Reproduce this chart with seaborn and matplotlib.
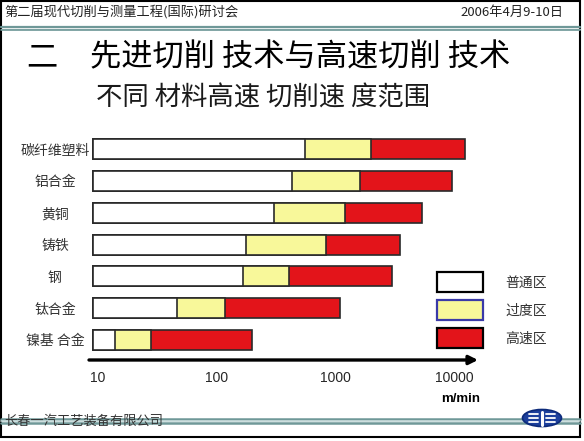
import matplotlib
matplotlib.use("Agg")
import matplotlib.pyplot as plt
import seaborn as sns
import numpy as np
from matplotlib.patches import Rectangle, Ellipse
from matplotlib.lines import Line2D

# ---------------- data ----------------
materials = ["碳纤维塑料", "铝合金", "黄铜", "铸铁", "钢", "钛合金", "镍基 合金"]
speed_start = [9.3, 9.3, 9.3, 9.3, 9.3, 9.3, 9.3]          # m/min
normal_end = [553, 430, 304, 177, 167, 47, 14]              # 普通区 upper limit
transition_end = [1968, 1592, 1194, 828, 406, 119, 28.5]    # 过度区 upper limit
high_end = [12270, 9550, 5358, 3444, 2951, 1084, 199]       # 高速区 upper limit
zone_labels = ["普通区", "过度区", "高速区"]
tick_values = [10, 100, 1000, 10000]
tick_labels = ["10", "100", "1000", "10000"]

header_left = "第二届现代切削与测量工程(国际)研讨会"
header_right = "2006年4月9-10日"
title_num = "二"
title_text = "先进切削 技术与高速切削 技术"
subtitle_text = "不同 材料高速 切削速 度范围"
footer_text = "长春一汽工艺装备有限公司"
unit_text = "m/min"

# ---------------- style ----------------
sns.set_style("white")
CJK = ["Noto Sans CJK SC", "DejaVu Sans"]
plt.rcParams["font.family"] = CJK

W, H = 584, 441
fig = plt.figure(figsize=(W / 100, H / 100), dpi=100)

# overlay axes in pixel coordinates for slide decoration
ov = fig.add_axes([0, 0, 1, 1], zorder=0)
ov.set_xlim(0, W)
ov.set_ylim(H, 0)
ov.axis("off")

C_WHITE = "#ffffff"
C_YELLOW = "#f8f89a"
C_RED = "#e3141a"
EDGE = "#2a2a2a"
TEAL = "#6f9898"

# outer frame
ov.add_patch(Rectangle((1, 1), 579, 436, fill=False, edgecolor="black", lw=1.5))
# header
ov.text(4, 12, header_left, fontsize=9.5, color="#222222", va="center", ha="left")
ov.text(563, 12, header_right, fontsize=9.5, color="#222222", va="center", ha="right")
for yy, lw, c in [(26.5, 1.6, TEAL), (28.5, 1.0, "#b8cfcf"), (30, 1.2, TEAL)]:
    ov.add_line(Line2D([1, 580], [yy, yy], color=c, lw=lw))
# title
ov.text(26, 57, title_num, fontsize=22.5, color="black", va="center", ha="left")
ov.text(90, 57, title_text, fontsize=22.5, color="black", va="center", ha="left")
ov.text(96, 98, subtitle_text, fontsize=19, color="#1a1a1a", va="center", ha="left",
        fontweight="light")
# footer
for yy, lw, c in [(418.5, 1.8, TEAL), (420.8, 1.2, "#c4d8d8"), (423, 1.8, TEAL)]:
    ov.add_line(Line2D([1, 580], [yy, yy], color=c, lw=lw))
ov.text(4, 421, footer_text, fontsize=9.5, color="#333333", va="center", ha="left")
# logo
ov.add_patch(Ellipse((542, 418), 39, 17, facecolor="#1c3f9c", edgecolor="#0c2a7a", lw=1.2, zorder=3))
for yy in [414, 418, 422]:
    ov.add_line(Line2D([529, 538], [yy, yy], color="white", lw=1.3, zorder=4))
    ov.add_line(Line2D([546, 555], [yy, yy], color="white", lw=1.3, zorder=4))
ov.add_line(Line2D([542, 542], [411.5, 424.5], color="white", lw=2.2, zorder=4))

# legend boxes
leg_colors = [C_WHITE, C_YELLOW, C_RED]
leg_edges = ["black", "#3a3aa8", "black"]
leg_y = [272, 300, 328]
for lab, fc, ec, yy in zip(zone_labels, leg_colors, leg_edges, leg_y):
    ov.add_patch(Rectangle((437, yy), 46, 19.5, facecolor=fc, edgecolor=ec, lw=1.6))
    ov.text(526, yy + 10.5, lab, fontsize=10, color="#333333", va="center", ha="center")

# unit label
ov.text(461, 399, unit_text, fontsize=9.5, fontweight="bold", color="black",
        va="center", ha="center", family=["Liberation Sans", "DejaVu Sans"])

# ---------------- chart axes ----------------
left_px, right_px, top_px, bot_px = 89, 478, 130, 360
ax = fig.add_axes([left_px / W, (H - bot_px) / H, (right_px - left_px) / W, (bot_px - top_px) / H],
                  zorder=2)
ax.patch.set_alpha(0)
ax.set_xscale("log")

start = np.array(speed_start, dtype=float)
layers = [(np.array(high_end), C_RED), (np.array(transition_end), C_YELLOW),
          (np.array(normal_end), C_WHITE)]
for end, col in layers:
    sns.barplot(x=end - start, y=materials, left=start, color=col, edgecolor=EDGE,
                linewidth=1.2, width=0.63, errorbar=None, orient="h", ax=ax,
                saturation=1)

ax.set_xlim(8.53, 15660)
ax.set_ylim(6.63, -0.6)
ax.set_xticks(tick_values)
ax.set_xticklabels(tick_labels, fontsize=10, family=["Liberation Sans", "DejaVu Sans"])
ax.xaxis.set_minor_locator(matplotlib.ticker.NullLocator())
ax.tick_params(axis="x", length=0, pad=8)
ax.tick_params(axis="y", length=0, pad=24.5)
for lbl in ax.get_yticklabels():
    lbl.set_horizontalalignment("center")
    lbl.set_fontsize(10)
    lbl.set_color("#333333")
ax.set_xlabel("")
ax.set_ylabel("")
for s in ax.spines.values():
    s.set_visible(False)

# axis arrow
ax.annotate("", xy=(1.0, 0), xytext=(0, 0), xycoords="axes fraction",
            textcoords="axes fraction",
            arrowprops=dict(arrowstyle="-|>", lw=2.4, color="black",
                            mutation_scale=13, shrinkA=0, shrinkB=0),
            annotation_clip=False)

fig.savefig("out.png", dpi=100, facecolor="white")
